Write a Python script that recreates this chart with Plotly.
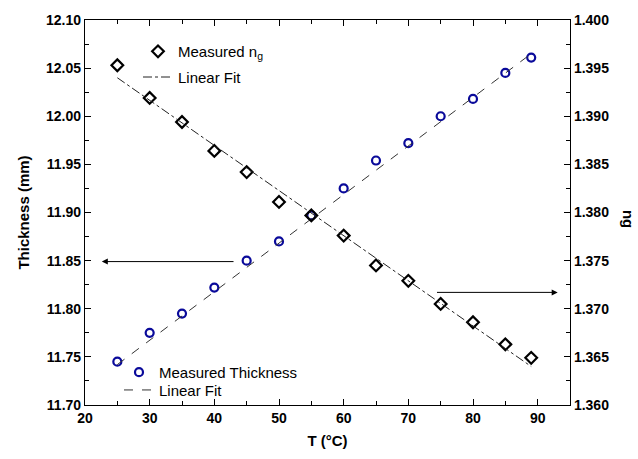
import plotly.graph_objects as go

T = [25, 30, 35, 40, 45, 50, 55, 60, 65, 70, 75, 80, 85, 89]
thickness = [11.745, 11.775, 11.795, 11.822, 11.850, 11.870, 11.897,
             11.925, 11.954, 11.972, 12.000, 12.018, 12.045, 12.061]
ng = [1.3953, 1.3919, 1.3894, 1.3864, 1.3842, 1.3811, 1.3797,
      1.3776, 1.3745, 1.3729, 1.3705, 1.3686, 1.3663, 1.3649]
fit_T = [25, 89]
thickness_fit = [11.742, 12.065]
ng_fit = [1.3940, 1.3640]

FONT = "Liberation Sans, Arial, sans-serif"
L, R, TOP, B = 85, 68, 15, 54
W, H = 638, 459
PW, PH = W - L - R, H - TOP - B


def px(xp):
    return (xp - L) / PW


def py(yp):
    return (H - B - yp) / PH


fig = go.Figure()
fig.add_trace(go.Scatter(x=T, y=ng, mode="markers", yaxis="y2",
                         name="Measured n<sub>g</sub>", legend="legend2",
                         showlegend=True,
                         marker=dict(symbol="diamond-open", size=9, color="black",
                                     line=dict(width=2.2, color="black"))))
fig.add_trace(go.Scatter(x=fit_T, y=ng_fit, mode="lines", yaxis="y2",
                         name="Linear Fit", legend="legend3", showlegend=True,
                         line=dict(color="#222222", width=1, dash="dashdot")))
fig.add_trace(go.Scatter(x=T, y=thickness, mode="markers", yaxis="y",
                         name="Measured Thickness", legend="legend4", showlegend=True,
                         marker=dict(symbol="circle-open", size=8, color="#0a0a9a",
                                     line=dict(width=2.2, color="#0a0a9a"))))
fig.add_trace(go.Scatter(x=fit_T, y=thickness_fit, mode="lines", yaxis="y",
                         name="Linear Fit", legend="legend5", showlegend=True,
                         line=dict(color="#333333", width=1, dash="dash")))

axis_common = dict(showline=True, linecolor="black", linewidth=1.2,
                   ticks="inside", ticklen=6, tickcolor="black", showgrid=False,
                   zeroline=False,
                   tickfont=dict(family=FONT, size=14, color="black", weight="bold"))

leg_common = dict(xanchor="left", yanchor="middle", bgcolor="rgba(0,0,0,0)",
                  font=dict(family=FONT, size=15, color="black"))

fig.update_layout(
    width=W, height=H,
    showlegend=True,
    margin=dict(l=L, r=R, t=TOP, b=B),
    paper_bgcolor="white", plot_bgcolor="white",
    xaxis=dict(range=[20, 95], dtick=10, tick0=20, mirror="ticks",
               minor=dict(ticks="inside", ticklen=4, dtick=5, tickcolor="black"),
               title=dict(text="T (°C)", standoff=10,
                          font=dict(family=FONT, size=15, color="black", weight="bold")),
               **axis_common),
    yaxis=dict(range=[11.70, 12.10], dtick=0.05, tick0=11.70, tickformat=".2f",
               minor=dict(ticks="inside", ticklen=4, dtick=0.025, tickcolor="black"),
               title=dict(text="Thickness (mm)", standoff=12,
                          font=dict(family=FONT, size=15, color="black", weight="bold")),
               **axis_common),
    yaxis2=dict(range=[1.360, 1.400], dtick=0.005, tick0=1.360, tickformat=".3f",
                overlaying="y", side="right",
                minor=dict(ticks="inside", ticklen=4, dtick=0.0025, tickcolor="black"),
                **axis_common),
    legend2=dict(x=px(138), y=py(47), **leg_common),
    legend3=dict(x=px(138), y=py(73), **leg_common),
    legend4=dict(x=px(119), y=py(372), **leg_common),
    legend5=dict(x=px(119), y=py(390), **leg_common),
)

fig.add_annotation(x=px(639), y=py(216), xref="paper", yref="paper",
                   text="ng", showarrow=False, textangle=90,
                   font=dict(family=FONT, size=15, color="black", weight="bold"))

# arrows (in data coordinates of left axis)
fig.add_annotation(x=22.6, y=11.849, ax=43.2, ay=11.849, xref="x", yref="y",
                   axref="x", ayref="y", text="", showarrow=True,
                   arrowhead=2, arrowsize=1.2, arrowwidth=1, arrowcolor="black")
fig.add_annotation(x=93.1, y=11.817, ax=74.2, ay=11.817, xref="x", yref="y",
                   axref="x", ayref="y", text="", showarrow=True,
                   arrowhead=2, arrowsize=1.2, arrowwidth=1, arrowcolor="black")

fig.write_html("out.html")
